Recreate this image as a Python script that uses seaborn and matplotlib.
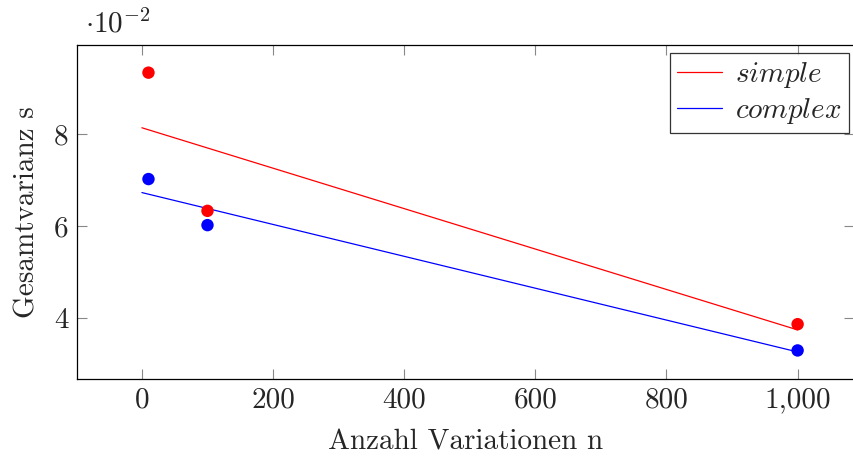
import numpy as np
import pandas as pd
import matplotlib
matplotlib.use("Agg")
import matplotlib.pyplot as plt
import seaborn as sns
from matplotlib.ticker import FuncFormatter, FixedLocator

n_values = [10, 100, 1000]
simple_s = [0.0933, 0.0633, 0.0387]
complex_s = [0.0702, 0.0602, 0.0330]
series_names = ["simple", "complex"]
series_colors = ["#ff0000", "#0000ff"]
x_ticks = [0, 200, 400, 600, 800, 1000]
y_ticks = [0.04, 0.06, 0.08]

sns.set_theme(style="white")
plt.rcParams["font.family"] = ["cmr10", "DejaVu Serif"]
plt.rcParams["mathtext.fontset"] = "cm"
plt.rcParams["axes.formatter.use_mathtext"] = True

FS = 21

df = pd.DataFrame({
    "n": n_values * 2,
    "s": simple_s + complex_s,
    "series": [series_names[0]] * 3 + [series_names[1]] * 3,
})

W, H = 854, 459
fig = plt.figure(figsize=(W / 100, H / 100), dpi=100)
ax = fig.add_axes([77 / W, 1 - 379 / H, (854 - 77) / W, (379 - 45) / H])

# regression lines over domain 0..max(n)
for name, vals, col in zip(series_names, [simple_s, complex_s], series_colors):
    slope, icpt = np.polyfit(n_values, vals, 1)
    xs = np.array([0, max(n_values)])
    sns.lineplot(x=xs, y=slope * xs + icpt, ax=ax, color=col, lw=0.9,
                 label=f"${name}$")

sns.scatterplot(data=df, x="n", y="s", hue="series",
                palette=dict(zip(series_names, series_colors)),
                s=80, edgecolor="none", ax=ax, legend=False, zorder=3)

ax.set_xlim(-99, 1086)
ax.set_ylim(0.0268, 0.0993)
ax.xaxis.set_major_locator(FixedLocator(x_ticks))
ax.yaxis.set_major_locator(FixedLocator(y_ticks))
ax.xaxis.set_major_formatter(FuncFormatter(lambda v, p: f"{int(round(v)):,}"))
ax.yaxis.set_major_formatter(FuncFormatter(lambda v, p: f"{int(round(v * 100))}"))
ax.tick_params(direction="in", length=7, width=0.8, color="#888888",
               labelsize=FS, top=True, right=True, bottom=True, left=True,
               pad=6)
for sp in ax.spines.values():
    sp.set_color("black")
    sp.set_linewidth(0.9)

ax.set_xlabel("Anzahl Variationen n", fontsize=FS, labelpad=11)
ax.set_ylabel("Gesamtvarianz s", fontsize=FS, labelpad=10)
fig.text(85 / W, 1 - 24 / H, r"$\cdot 10^{-2}$", fontsize=FS, va="center", ha="left")

leg = ax.legend(loc="upper right", fontsize=FS, frameon=True, fancybox=False,
                edgecolor="black", handlelength=1.55, borderpad=0.25,
                labelspacing=0.2, handletextpad=0.45, borderaxespad=0,
                bbox_to_anchor=(849 / W, 1 - 53 / H), bbox_transform=fig.transFigure)
leg.get_frame().set_linewidth(0.9)

fig.savefig("out.png", dpi=100)
